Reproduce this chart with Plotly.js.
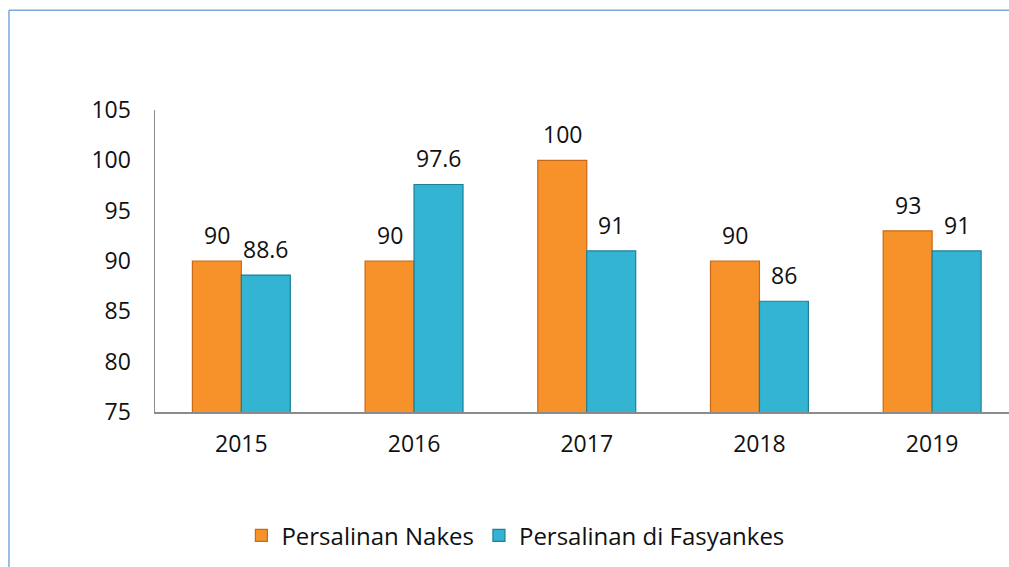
<!DOCTYPE html>
<html>
<head>
<meta charset="utf-8">
<script src="https://cdn.plot.ly/plotly-3.0.1.min.js"></script>
<style>html,body{margin:0;padding:0;background:#fff;}#chart{width:1009px;height:567px;}</style>
</head>
<body>
<div id="chart"></div>
<script>
const years = ["2015", "2016", "2017", "2018", "2019"];
const nakes = [90, 90, 100, 90, 93];
const fasyankes = [88.6, 97.6, 91, 86, 91];
const seriesNames = ["Persalinan Nakes", "Persalinan di Fasyankes"];

const fontFam = "'Open Sans', 'Noto Sans', sans-serif";
const fs = 23;

const traces = [
  {
    type: "bar", x: years, y: nakes, name: seriesNames[0],
    marker: {color: "#F7922A", line: {color: "#C8681A", width: 1.2}}
  },
  {
    type: "bar", x: years, y: fasyankes, name: seriesNames[1],
    marker: {color: "#33B4D2", line: {color: "#1E7F99", width: 1.2}}
  }
];

const annotations = [];
[nakes, fasyankes].forEach((vals, s) => {
  vals.forEach((v, i) => {
    annotations.push({
      xref: "x", yref: "y", x: i + (s === 0 ? -0.142 : 0.142), y: v,
      text: String(v), showarrow: false, yanchor: "bottom", yshift: 8,
      font: {family: fontFam, size: fs, color: "#111"}
    });
  });
});

const layout = {
  width: 1009, height: 567,
  margin: {l: 155, r: 0, t: 110, b: 155},
  paper_bgcolor: "#fff", plot_bgcolor: "#fff",
  barmode: "group", bargap: 0.433, bargroupgap: 0,
  font: {family: fontFam, size: fs, color: "#111"},
  showlegend: true,
  legend: {orientation: "h", x: 0.422, xanchor: "center", y: -0.41, yanchor: "middle",
           font: {family: fontFam, size: 24, color: "#111"}, itemwidth: 30, traceorder: "normal"},
  xaxis: {type: "category", range: [-0.5, 4.445], showline: true, linecolor: "#8c8c8c", linewidth: 1.5,
          ticks: "outside", ticklen: 11, tickcolor: "rgba(0,0,0,0)", showgrid: false, zeroline: false,
          tickfont: {family: fontFam, size: fs, color: "#111"}, fixedrange: true},
  yaxis: {range: [75, 105], dtick: 5, tick0: 75, showline: true, linecolor: "#8c8c8c", linewidth: 1.5,
          ticks: "outside", ticklen: 18, tickcolor: "rgba(0,0,0,0)", showgrid: false, zeroline: false,
          tickfont: {family: fontFam, size: fs, color: "#111"}, fixedrange: true},
  annotations: annotations,
  shapes: [
    {type: "line", xref: "paper", yref: "paper", x0: -0.171, x1: -0.171, y0: -0.6, y1: 1.33,
     line: {color: "#7DA7DC", width: 1.5}},
    {type: "line", xref: "paper", yref: "paper", x0: -0.171, x1: 1.05, y0: 1.33, y1: 1.33,
     line: {color: "#7DA7DC", width: 1.5}}
  ]
};

Plotly.newPlot("chart", traces, layout, {displayModeBar: false, staticPlot: true});
</script>
</body>
</html>
